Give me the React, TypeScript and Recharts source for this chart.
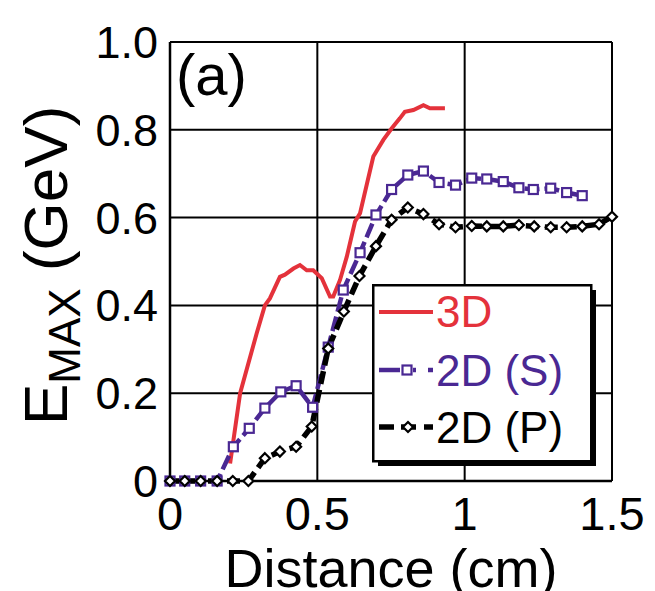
import React from "react";
import { LineChart, Line, XAxis, YAxis, CartesianGrid, Legend } from "recharts";

const RED = "#e4323b";
const PURPLE = "#4a2893";
const FONT = "'Liberation Sans', Arial, Helvetica, sans-serif";

// 3D run: continuous trace, no markers
const dist3D = [0.204, 0.238, 0.294, 0.322, 0.339, 0.373, 0.39, 0.419, 0.441, 0.464, 0.486, 0.515, 0.543, 0.554, 0.577, 0.6, 0.628, 0.645, 0.69, 0.724, 0.752, 0.78, 0.797, 0.826, 0.86, 0.882, 0.933];
const emax3D = [0.04, 0.2, 0.336, 0.4, 0.416, 0.465, 0.47, 0.484, 0.492, 0.48, 0.48, 0.462, 0.42, 0.42, 0.458, 0.511, 0.591, 0.61, 0.739, 0.777, 0.803, 0.826, 0.841, 0.845, 0.856, 0.849, 0.849];

// 2D, S-polarisation
const distS = [0, 0.05, 0.104, 0.16, 0.215, 0.269, 0.322, 0.376, 0.428, 0.484, 0.537, 0.588, 0.645, 0.699, 0.752, 0.807, 0.86, 0.913, 0.969, 1.024, 1.075, 1.131, 1.184, 1.233, 1.292, 1.346, 1.399];
const emaxS = [0, 0, 0, 0, 0.078, 0.12, 0.166, 0.203, 0.217, 0.168, 0.305, 0.435, 0.52, 0.606, 0.664, 0.697, 0.706, 0.68, 0.674, 0.69, 0.688, 0.682, 0.668, 0.664, 0.667, 0.657, 0.65];

// 2D, P-polarisation
const distP = [0, 0.05, 0.104, 0.16, 0.213, 0.266, 0.322, 0.373, 0.428, 0.481, 0.537, 0.59, 0.643, 0.699, 0.752, 0.807, 0.86, 0.913, 0.969, 1.024, 1.075, 1.131, 1.184, 1.236, 1.292, 1.346, 1.399, 1.456, 1.5];
const emaxP = [0, 0, 0, 0, 0, 0, 0.052, 0.067, 0.078, 0.124, 0.302, 0.386, 0.467, 0.535, 0.595, 0.623, 0.608, 0.585, 0.578, 0.581, 0.58, 0.58, 0.583, 0.58, 0.578, 0.578, 0.58, 0.585, 0.602];

const xTicks = [0, 0.5, 1, 1.5];
const yTicks = [0, 0.2, 0.4, 0.6, 0.8, 1.0];

const zip = (xs: number[], ys: number[]) => xs.map((d, i) => ({ d, e: ys[i] }));

const data3D = zip(dist3D, emax3D);
const dataS = zip(distS, emaxS);
const dataP = zip(distP, emaxP);

const SquareDot = (props: any) => {
  const { cx, cy, index } = props;
  return <rect key={`s${index}`} x={cx - 4.5} y={cy - 4.5} width={9} height={9} fill="#fff" stroke={PURPLE} strokeWidth={2.2} />;
};

const DiamondDot = (props: any) => {
  const { cx, cy, index } = props;
  return (
    <path
      key={`p${index}`}
      d={`M${cx},${cy - 5}L${cx + 5},${cy}L${cx},${cy + 5}L${cx - 5},${cy}Z`}
      fill="#fff"
      stroke="#000"
      strokeWidth={2.2}
    />
  );
};

const LegendBox = () => (
  <svg width={226} height={184} style={{ display: "block" }}>
    <rect x={6} y={6} width={218} height={176} fill="#000" />
    <rect x={1.25} y={1.25} width={218} height={176} fill="#fff" stroke="#000" strokeWidth={2.5} />
    <g fontFamily={FONT} fontSize={44}>
      <line x1={7} y1={28} x2={61} y2={28} stroke={RED} strokeWidth={4} />
      <text x={64} y={43} fill={RED}>3D</text>

      <line x1={7} y1={86} x2={28} y2={86} stroke={PURPLE} strokeWidth={4.5} />
      <line x1={41} y1={86} x2={44} y2={86} stroke={PURPLE} strokeWidth={4.5} />
      <line x1={56} y1={86} x2={61} y2={86} stroke={PURPLE} strokeWidth={4.5} />
      <rect x={30.5} y={81.5} width={9} height={9} fill="#fff" stroke={PURPLE} strokeWidth={2.2} />
      <text x={64} y={102} fill={PURPLE}>2D (S)</text>

      <line x1={7} y1={143} x2={22} y2={143} stroke="#000" strokeWidth={5.5} />
      <line x1={29} y1={143} x2={44} y2={143} stroke="#000" strokeWidth={5.5} />
      <line x1={52} y1={143} x2={61} y2={143} stroke="#000" strokeWidth={5.5} />
      <path d="M36,138L41,143L36,148L31,143Z" fill="#fff" stroke="#000" strokeWidth={2.2} />
      <text x={64} y={159} fill="#000">2D (P)</text>
    </g>
  </svg>
);

const YTitle = () => (
  <text transform="translate(67,425) rotate(-90)" fontFamily={FONT} fill="#000">
    <tspan fontSize={62}>E</tspan>
    <tspan fontSize={44} dy={13}>MAX</tspan>
    <tspan fontSize={62} dy={-13}>{"\u00a0(GeV)"}</tspan>
  </text>
);

export default function App() {
  return (
    <div style={{ position: "absolute", left: 0, top: 0, width: 655, height: 591, background: "#fff" }}>
      <LineChart width={655} height={591} margin={{ top: 42, right: 43, bottom: 0, left: 0 }}>
        <CartesianGrid stroke="#000" strokeWidth={2} />
        <XAxis
          dataKey="d"
          type="number"
          domain={[0, 1.5]}
          ticks={xTicks}
          allowDuplicatedCategory={false}
          height={110}
          tickSize={0}
          tickMargin={16}
          axisLine={{ stroke: "#000", strokeWidth: 2.5 }}
          tick={{ fill: "#000", fontSize: 47, fontFamily: FONT }}
          tickFormatter={(v: number) => String(v)}
          label={{ value: "Distance (cm)", position: "insideBottom", offset: 4, fill: "#000", fontSize: 54, fontFamily: FONT }}
        />
        <YAxis
          dataKey="e"
          type="number"
          domain={[0, 1]}
          ticks={yTicks}
          width={170}
          tickSize={0}
          tickMargin={12}
          axisLine={{ stroke: "#000", strokeWidth: 2.5 }}
          tick={{ fill: "#000", fontSize: 45, fontFamily: FONT }}
          tickFormatter={(v: number) => (v === 0 ? "0" : v.toFixed(1))}
          label={{ content: () => <YTitle /> }}
        />
        <Legend
          layout="vertical"
          align="center"
          verticalAlign="middle"
          content={() => <LegendBox />}
          wrapperStyle={{ left: 372, top: 284, width: 226, height: 184 }}
        />
        <Line
          data={data3D}
          dataKey="e"
          name="3D"
          type="linear"
          stroke={RED}
          strokeWidth={4}
          dot={false}
          isAnimationActive={false}
        />
        <Line
          data={dataS}
          dataKey="e"
          name="2D (S)"
          type="linear"
          stroke={PURPLE}
          strokeWidth={4.5}
          strokeDasharray="15 5"
          dot={SquareDot}
          isAnimationActive={false}
        />
        <Line
          data={dataP}
          dataKey="e"
          name="2D (P)"
          type="linear"
          stroke="#000"
          strokeWidth={5.5}
          strokeDasharray="13 6"
          dot={DiamondDot}
          isAnimationActive={false}
        />
        <text x={176} y={95} fontFamily={FONT} fontSize={58} fill="#000">(a)</text>
      </LineChart>
    </div>
  );
}
